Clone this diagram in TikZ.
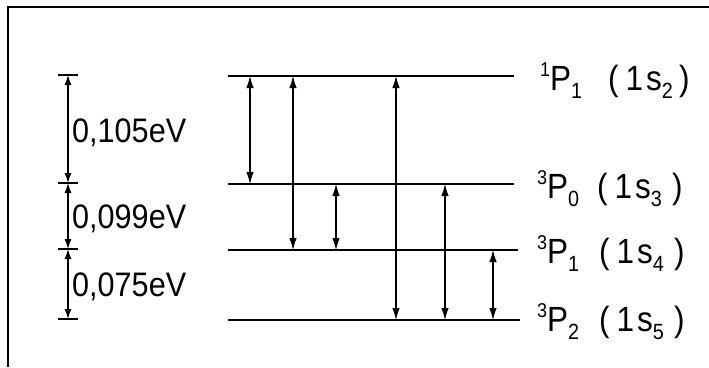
\documentclass[tikz,border=0pt]{standalone}
\usepackage{fontspec}
\setmainfont[FakeStretch=0.9]{Liberation Sans}
\usetikzlibrary{arrows.meta}
\newcommand\lsub[1]{\raisebox{-0.25em}{\fontsize{22}{22}\selectfont #1}}
\newcommand\lsup[1]{\raisebox{0.4em}{\fontsize{20}{20}\selectfont #1}}
\tikzset{
  level/.style={line width=2.6pt},
  trans/.style={line width=1.1pt,{Latex[length=12pt,width=7.5pt]}-{Latex[length=12pt,width=7.5pt]}},
  scalebar/.style={line width=1.2pt,{Latex[length=10pt,width=7pt]}-{Latex[length=10pt,width=7pt]}},
  tickbar/.style={line width=2.4pt},
  frameline/.style={line width=2pt},
  elabel/.style={anchor=base west,inner sep=0pt,font=\fontsize{34}{34}\selectfont},
  slabel/.style={anchor=base west,inner sep=0pt,font=\fontsize{35}{35}\selectfont}
}
\begin{document}
\begin{tikzpicture}[x=1pt,y=-1pt]
\useasboundingbox (0,0) rectangle (709,367);
\fill[white] (0,0) rectangle (709,367);
% frame (top and left)
\coordinate (fc) at (8,7);
\coordinate (fr) at (709,7);
\coordinate (fb) at (8,367);
\draw[frameline] (fr) -- (fc) -- (fb);
% levels
\coordinate (L1a) at (228,76);  \coordinate (L1b) at (514,76);
\coordinate (L2a) at (228,184); \coordinate (L2b) at (514,184);
\coordinate (L3a) at (228,250); \coordinate (L3b) at (518,250);
\coordinate (L4a) at (228,320); \coordinate (L4b) at (520,320);
\draw[level] (L1a) -- (L1b);
\draw[level] (L2a) -- (L2b);
\draw[level] (L3a) -- (L3b);
\draw[level] (L4a) -- (L4b);
% transition columns
\coordinate (c1) at (250,0);
\coordinate (c2) at (293,0);
\coordinate (c3) at (336,0);
\coordinate (c4) at (396,0);
\coordinate (c5) at (445,0);
\coordinate (c6) at (493,0);
\draw[trans] (c1|-L1a) -- (c1|-L2a);
\draw[trans] (c2|-L1a) -- (c2|-L3a);
\draw[trans] (c3|-L2a) -- (c3|-L3a);
\draw[trans] (c4|-L1a) -- (c4|-L4a);
\draw[trans] (c5|-L2a) -- (c5|-L4a);
\draw[trans] (c6|-L3a) -- (c6|-L4a);
% energy scale
\coordinate (s1) at (68,75);
\coordinate (s2) at (68,183);
\coordinate (s3) at (68,249);
\coordinate (s4) at (68,319);
\foreach \s in {s1,s2,s3,s4}{
  \draw[tickbar] ([xshift=-10pt]\s) -- ([xshift=10pt]\s);
}
\draw[scalebar] (s1) -- (s2);
\draw[scalebar] (s2) -- (s3);
\draw[scalebar] (s3) -- (s4);
\node[elabel] (e1) at (72,142) {0,105eV};
\node[elabel] (e2) at (72,228) {0,099eV};
\node[elabel] (e3) at (72,296) {0,075eV};
% state labels
\node[slabel] (n1) at (540,90) {\lsup{1}P\lsub{1}\hspace{26pt}(\hspace{7pt}1\hspace{3pt}s\lsub{2}\hspace{6pt})};
\node[slabel] (n2) at (537,198) {\lsup{3}P\lsub{0}\hspace{18pt}(\hspace{7pt}1\hspace{3pt}s\lsub{3}\hspace{10pt})};
\node[slabel] (n3) at (537,263) {\lsup{3}P\lsub{1}\hspace{20pt}(\hspace{7pt}1\hspace{3pt}s\lsub{4}\hspace{10pt})};
\node[slabel] (n4) at (537,331) {\lsup{3}P\lsub{2}\hspace{20pt}(\hspace{7pt}1\hspace{3pt}s\lsub{5}\hspace{10pt})};
\end{tikzpicture}
\end{document}
